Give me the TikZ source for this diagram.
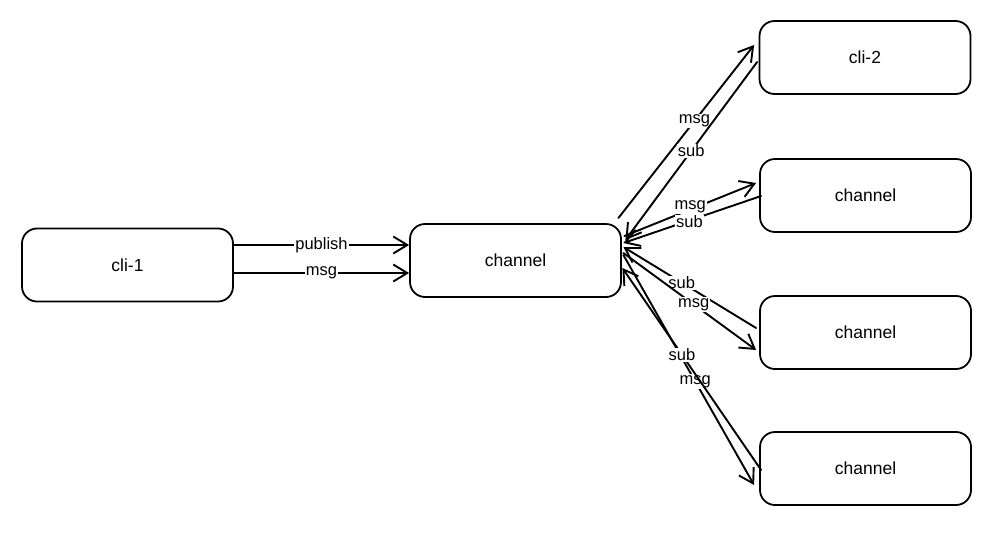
\documentclass[tikz,border=0pt]{standalone}
\usepackage{fontspec}
\setmainfont{Liberation Sans}
\usetikzlibrary{arrows.meta,calc}
\begin{document}
\begin{tikzpicture}[x=1pt,y=-1pt,
  box/.style={draw, line width=1.8pt, rounded corners=15pt, minimum width=211pt, minimum height=73pt, font=\fontsize{17.5}{20}\selectfont},
  conn/.style={line width=1.9pt, line cap=round, -{Straight Barb[length=14pt,width=17pt,line width=1.9pt]}},
  lbl/.style={fill=white, inner sep=1pt, font=\fontsize{16.5}{19}\selectfont}]
\useasboundingbox (0,0) rectangle (1004,539);
\node[box] (cli1) at (127.5,265) {cli-1};
\node[box] (ch) at (515.5,260.5) {channel};
\node[box] (cli2) at (865,57.5) {cli-2};
\node[box] (ch2) at (865.5,195.5) {channel};
\node[box] (ch3) at (865.5,332.5) {channel};
\node[box] (ch4) at (865.5,468.5) {channel};
% left
\draw[conn] (cli1.east |- 0,245) -- node[lbl] {publish} (ch.west |- 0,245);
\draw[conn] (cli1.east |- 0,273) -- node[lbl] {msg} (ch.west |- 0,273);
% cli-2
\draw[conn] ($(ch.east)+(-3.5,-42.5)$) -- node[lbl,pos=0.56] {msg} ($(cli2.west)+(-4.5,-12.5)$);
\draw[conn] ($(cli2.west)+(-1.5,4.5)$) -- node[lbl,pos=0.5] {sub} ($(ch.east)+(3.5,-20.5)$);
% ch2
\draw[conn] ($(ch.east)+(2.5,-24.5)$) -- node[lbl,pos=0.5,yshift=3pt] {msg} ($(ch2.west)+(-3,-12.5)$);
\draw[conn] ($(ch2.west)+(2,0.5)$) -- node[lbl,pos=0.52,yshift=-1.5pt] {sub} ($(ch.east)+(1.5,-17.5)$);
% ch3
\draw[conn] ($(ch3.west)+(-3,-4.5)$) -- node[lbl,pos=0.56] {sub} ($(ch.east)+(1.5,-13.5)$);
\draw[conn] ($(ch.east)+(1.5,-7.5)$) -- node[lbl,pos=0.53] {msg} ($(ch3.west)+(-3,17.5)$);
% ch4
\draw[conn] ($(ch.east)+(1.5,-5.5)$) -- node[lbl,pos=0.55] {msg} ($(ch4.west)+(-5,16.5)$);
\draw[conn] ($(ch4.west)+(2,1.5)$) -- node[lbl,pos=0.57] {sub} ($(ch.east)+(0.5,7.5)$);
\end{tikzpicture}
\end{document}
